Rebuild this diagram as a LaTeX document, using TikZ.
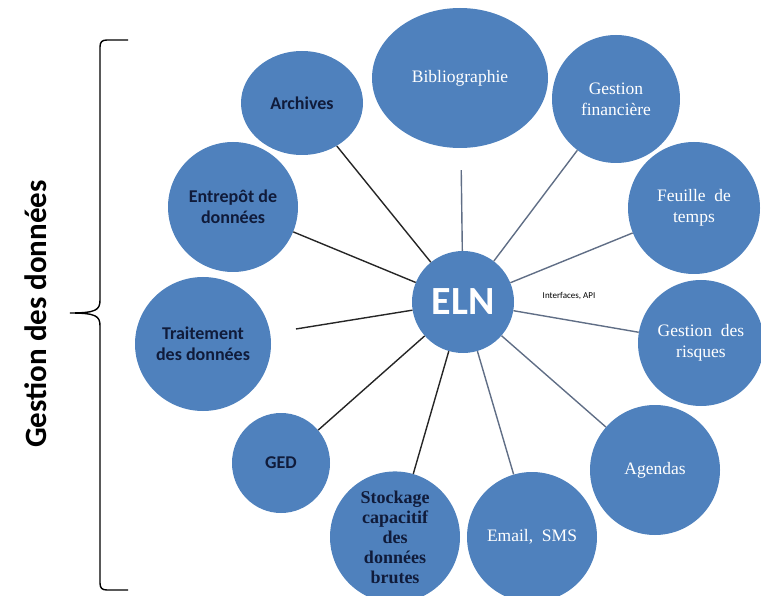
\documentclass[tikz,border=0pt]{standalone}
\usepackage{fontspec}
\setmainfont{Liberation Serif}
\newfontfamily\carlito{Carlito}
\usepackage{tikz}
\usetikzlibrary{shapes.geometric}
\definecolor{BleuBulle}{RGB}{79,129,189}
\definecolor{BleuNuit}{RGB}{16,27,58}
\definecolor{GrisLien}{RGB}{96,110,134}

\tikzset{
  bulle/.style={ellipse,fill=BleuBulle,inner sep=0pt,align=center},
  texteblanc/.style={text=white,font=\fontsize{17.5}{21}\selectfont},
  textenuit/.style={text=BleuNuit,font=\carlito\bfseries\fontsize{18}{21}\selectfont},
  liennoir/.style={line width=1.4pt,black!85},
  liengris/.style={line width=1.4pt,GrisLien}
}

\begin{document}
\begin{tikzpicture}[x=1pt,y=-1pt]
  \useasboundingbox (0,0) rectangle (761,596);
  \node[bulle,minimum width=102,minimum height=102,text=white,font=\carlito\bfseries\fontsize{40}{44}\selectfont] (eln) at (463,302) {ELN};
  \node[font=\carlito\fontsize{9}{10}\selectfont] (api) at (569,296) {Interfaces, API};
  \node[bulle,textenuit,minimum width=122,minimum height=104] (archives) at (302,103) {Archives};
  \node[bulle,texteblanc,minimum width=176,minimum height=140] (biblio) at (460,78) {Bibliographie};
  \node[bulle,texteblanc,minimum width=128,minimum height=128] (finance) at (616,99) {Gestion\\financière};
  \node[bulle,texteblanc,minimum width=132,minimum height=132] (feuille) at (694,208) {Feuille\ \ de\\temps};
  \node[bulle,texteblanc,minimum width=126,minimum height=126] (risques) at (701,343) {Gestion\ \ des\\risques};
  \node[bulle,texteblanc,minimum width=130,minimum height=130] (agendas) at (655,470) {Agendas};
  \node[bulle,texteblanc,minimum width=130,minimum height=130] (email) at (532,537) {Email,\ \ SMS};
  \node[bulle,minimum width=130,minimum height=130,text=BleuNuit,font=\bfseries\fontsize{18}{20}\selectfont] (stockage) at (395,537) {Stockage\\capacitif\\des\\données\\brutes};
  \node[bulle,textenuit,minimum width=98,minimum height=100] (ged) at (281,463) {GED};
  \node[bulle,textenuit,minimum width=136,minimum height=134] (traitement) at (203,344) {Traitement\\des données};
  \node[bulle,textenuit,minimum width=130,minimum height=130] (entrepot) at (233,207) {Entrepôt de\\données};

  \draw[liennoir] (eln) -- (archives);
  \draw[liennoir] (eln) -- (entrepot);
  \draw[liennoir,shorten >=26pt] (eln) -- (traitement);
  \draw[liennoir] (eln) -- (ged);
  \draw[liennoir] (eln) -- (stockage);
  \draw[liengris,shorten >=22pt] (eln) -- (biblio);
  \draw[liengris] (eln) -- (finance);
  \draw[liengris] (eln) -- (feuille);
  \draw[liengris] (eln) -- (risques);
  \draw[liengris] (eln) -- (agendas);
  \draw[liengris] (eln) -- (email);

  \draw[line width=1.4pt] (128,40) -- (107,40) .. controls (102,40) and (100,42) .. (100,47)
    -- (100,300) .. controls (100,310) and (96,313) .. (70,313)
    .. controls (96,313) and (100,316) .. (100,326)
    -- (100,583) .. controls (100,588) and (102,590) .. (107,590) -- (128,590);
  \node[rotate=90,font=\carlito\bfseries\fontsize{31}{35}\selectfont] (gestion) at (36,314) {Gestion des données};
\end{tikzpicture}
\end{document}
